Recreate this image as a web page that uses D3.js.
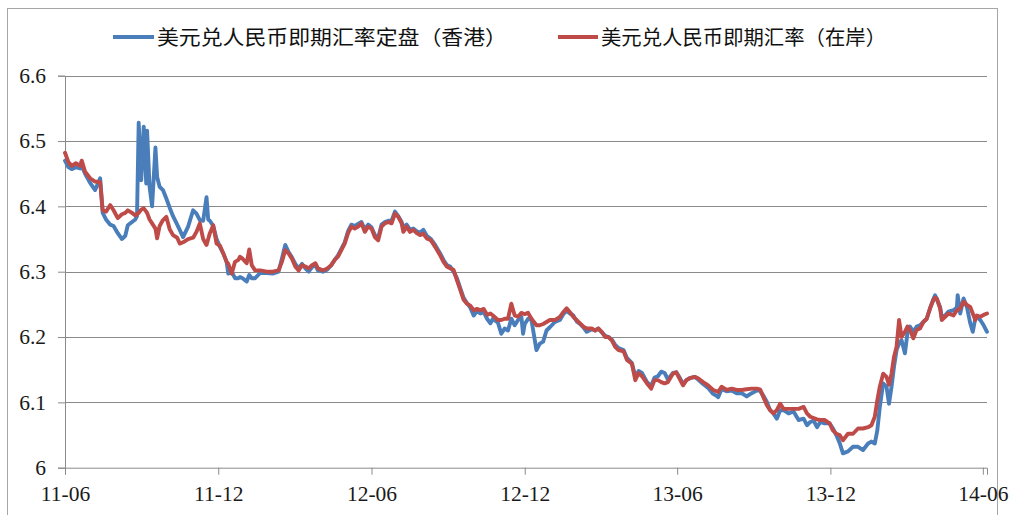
<!DOCTYPE html>
<html>
<head>
<meta charset="utf-8">
<script src="https://cdn.jsdelivr.net/npm/d3@7"></script>
<style>
  html, body { margin: 0; padding: 0; background: #fff; }
  #chart { width: 1009px; height: 515px; overflow: hidden; }
</style>
</head>
<body>
<div id="chart"></div>
<script>
// series names (legend)
var seriesNames = ["美元兑人民币即期汇率定盘（香港）", "美元兑人民币即期汇率（在岸）"];

var dates = [
  "2011-06-01","2011-06-05","2011-06-09","2011-06-14","2011-06-19","2011-06-21","2011-06-25","2011-07-01",
  "2011-07-07","2011-07-13","2011-07-16","2011-07-20","2011-07-25","2011-07-29","2011-08-03","2011-08-08",
  "2011-08-12","2011-08-15","2011-08-20","2011-08-24","2011-08-26","2011-08-28","2011-08-31","2011-09-03",
  "2011-09-06","2011-09-07","2011-09-10","2011-09-13","2011-09-17","2011-09-19","2011-09-22","2011-09-26",
  "2011-09-30","2011-10-04","2011-10-08","2011-10-13","2011-10-16","2011-10-20","2011-10-26","2011-11-01",
  "2011-11-05","2011-11-09","2011-11-13","2011-11-17","2011-11-19","2011-11-21","2011-11-25","2011-11-29",
  "2011-12-03","2011-12-07","2011-12-11","2011-12-13","2011-12-17","2011-12-21","2011-12-25","2011-12-27",
  "2011-12-30","2012-01-04","2012-01-07","2012-01-10","2012-01-14","2012-01-20","2012-01-28","2012-02-04",
  "2012-02-11","2012-02-15","2012-02-19","2012-02-23","2012-02-27","2012-03-02","2012-03-06","2012-03-10",
  "2012-03-14","2012-03-18","2012-03-22","2012-03-26","2012-03-29","2012-04-04","2012-04-09","2012-04-14",
  "2012-04-18","2012-04-22","2012-04-26","2012-04-30","2012-05-04","2012-05-08","2012-05-12","2012-05-16",
  "2012-05-20","2012-05-24","2012-05-28","2012-06-01","2012-06-05","2012-06-09","2012-06-13","2012-06-17",
  "2012-06-21","2012-06-25","2012-06-29","2012-07-03","2012-07-07","2012-07-09","2012-07-13","2012-07-17",
  "2012-07-21","2012-07-25","2012-07-29","2012-08-02","2012-08-06","2012-08-11","2012-08-16","2012-08-22",
  "2012-08-26","2012-08-30","2012-09-03","2012-09-07","2012-09-11","2012-09-15","2012-09-19","2012-09-23",
  "2012-09-27","2012-10-01","2012-10-05","2012-10-09","2012-10-13","2012-10-17","2012-10-21","2012-10-24",
  "2012-10-30","2012-11-03","2012-11-07","2012-11-11","2012-11-15","2012-11-19","2012-11-23","2012-11-27",
  "2012-11-29","2012-12-01","2012-12-05","2012-12-09","2012-12-15","2012-12-19","2012-12-23","2012-12-27",
  "2012-12-31","2013-01-06","2013-01-12","2013-01-16","2013-01-20","2013-01-24","2013-01-28","2013-02-01",
  "2013-02-05","2013-02-09","2013-02-13","2013-02-19","2013-02-23","2013-02-27","2013-03-03","2013-03-07",
  "2013-03-11","2013-03-15","2013-03-19","2013-03-23","2013-03-29","2013-04-02","2013-04-08","2013-04-12",
  "2013-04-16","2013-04-20","2013-04-26","2013-05-01","2013-05-05","2013-05-09","2013-05-13","2013-05-17",
  "2013-05-21","2013-05-27","2013-05-31","2013-06-04","2013-06-08","2013-06-12","2013-06-16","2013-06-22",
  "2013-06-26","2013-07-02","2013-07-08","2013-07-14","2013-07-18","2013-07-20","2013-07-24","2013-07-30",
  "2013-08-05","2013-08-11","2013-08-17","2013-08-23","2013-08-29","2013-09-04","2013-09-08","2013-09-12",
  "2013-09-16","2013-09-20","2013-09-24","2013-09-28","2013-10-02","2013-10-06","2013-10-12","2013-10-18",
  "2013-10-24","2013-10-30","2013-11-03","2013-11-07","2013-11-11","2013-11-15","2013-11-19","2013-11-24",
  "2013-11-30","2013-12-04","2013-12-08","2013-12-12","2013-12-16","2013-12-22","2013-12-28","2014-01-03",
  "2014-01-09","2014-01-15","2014-01-19","2014-01-23","2014-01-26","2014-01-29","2014-02-02","2014-02-06",
  "2014-02-09","2014-02-12","2014-02-15","2014-02-18","2014-02-21","2014-02-24","2014-02-28","2014-03-03",
  "2014-03-06","2014-03-10","2014-03-14","2014-03-18","2014-03-22","2014-03-26","2014-03-30","2014-04-03",
  "2014-04-05","2014-04-07","2014-04-11","2014-04-13","2014-04-17","2014-04-21","2014-04-27","2014-05-01",
  "2014-05-02","2014-05-05","2014-05-09","2014-05-13","2014-05-17","2014-05-20","2014-05-23","2014-05-25",
  "2014-05-29","2014-06-02","2014-06-06"
];

// USD/CNY spot fixing, Hong Kong (blue)
var hkFix = [
  6.470,6.460,6.457,6.460,6.458,6.462,6.450,6.436,
  6.425,6.443,6.390,6.380,6.372,6.370,6.359,6.350,
  6.355,6.371,6.376,6.380,6.385,6.528,6.440,6.522,
  6.435,6.516,6.430,6.400,6.490,6.445,6.430,6.425,
  6.412,6.398,6.385,6.372,6.364,6.353,6.369,6.394,
  6.389,6.379,6.378,6.414,6.380,6.378,6.370,6.350,
  6.338,6.328,6.315,6.297,6.300,6.290,6.290,6.292,
  6.290,6.285,6.295,6.290,6.290,6.298,6.298,6.297,
  6.300,6.320,6.341,6.330,6.322,6.312,6.305,6.312,
  6.305,6.300,6.307,6.310,6.302,6.300,6.303,6.310,
  6.318,6.325,6.335,6.345,6.362,6.372,6.370,6.373,
  6.376,6.365,6.372,6.368,6.356,6.352,6.372,6.376,
  6.378,6.378,6.392,6.385,6.376,6.368,6.372,6.364,
  6.366,6.362,6.360,6.364,6.355,6.350,6.341,6.328,
  6.318,6.310,6.308,6.300,6.290,6.275,6.260,6.252,
  6.245,6.233,6.240,6.236,6.238,6.228,6.221,6.228,
  6.222,6.205,6.213,6.210,6.228,6.218,6.226,6.231,
  6.205,6.220,6.228,6.226,6.180,6.190,6.193,6.210,
  6.215,6.223,6.226,6.235,6.240,6.236,6.233,6.224,
  6.220,6.215,6.208,6.212,6.210,6.213,6.207,6.202,
  6.200,6.196,6.188,6.183,6.180,6.168,6.160,6.140,
  6.148,6.145,6.131,6.125,6.138,6.140,6.147,6.145,
  6.135,6.145,6.146,6.138,6.128,6.134,6.137,6.139,
  6.135,6.128,6.122,6.113,6.110,6.108,6.120,6.117,
  6.118,6.114,6.114,6.109,6.114,6.118,6.118,6.110,
  6.101,6.088,6.083,6.075,6.088,6.088,6.083,6.086,
  6.073,6.075,6.065,6.070,6.072,6.062,6.070,6.068,
  6.068,6.060,6.050,6.038,6.022,6.025,6.032,6.032,
  6.027,6.037,6.040,6.037,6.057,6.093,6.129,6.124,
  6.098,6.124,6.155,6.180,6.190,6.195,6.175,6.206,
  6.216,6.208,6.216,6.218,6.223,6.228,6.244,6.258,
  6.264,6.258,6.246,6.230,6.233,6.239,6.241,6.245,
  6.264,6.236,6.259,6.246,6.221,6.208,6.228,6.231,
  6.226,6.218,6.208
];

// USD/CNY spot, onshore (red)
var onshore = [
  6.482,6.468,6.462,6.466,6.462,6.470,6.453,6.443,
  6.438,6.437,6.394,6.392,6.402,6.394,6.382,6.388,
  6.390,6.394,6.390,6.386,6.388,6.390,6.395,6.397,
  6.392,6.390,6.380,6.374,6.366,6.351,6.370,6.379,
  6.384,6.365,6.356,6.352,6.343,6.345,6.350,6.352,
  6.361,6.374,6.350,6.341,6.350,6.359,6.371,6.343,
  6.340,6.328,6.315,6.312,6.297,6.315,6.318,6.323,
  6.320,6.313,6.334,6.310,6.302,6.302,6.300,6.300,
  6.302,6.315,6.333,6.328,6.320,6.308,6.302,6.310,
  6.308,6.305,6.310,6.313,6.305,6.302,6.305,6.310,
  6.318,6.323,6.333,6.343,6.359,6.369,6.366,6.369,
  6.374,6.361,6.369,6.366,6.353,6.348,6.369,6.374,
  6.376,6.374,6.389,6.384,6.374,6.361,6.369,6.361,
  6.364,6.359,6.356,6.358,6.351,6.348,6.338,6.325,
  6.315,6.308,6.305,6.303,6.287,6.272,6.257,6.251,
  6.248,6.241,6.243,6.241,6.243,6.234,6.236,6.233,
  6.226,6.226,6.228,6.228,6.251,6.233,6.231,6.237,
  6.236,6.235,6.237,6.228,6.218,6.218,6.220,6.223,
  6.226,6.226,6.231,6.238,6.244,6.238,6.231,6.226,
  6.221,6.216,6.213,6.213,6.210,6.213,6.208,6.200,
  6.200,6.195,6.185,6.180,6.178,6.165,6.159,6.134,
  6.145,6.140,6.129,6.121,6.134,6.134,6.131,6.129,
  6.131,6.144,6.146,6.136,6.126,6.134,6.137,6.139,
  6.137,6.131,6.126,6.119,6.117,6.116,6.124,6.119,
  6.121,6.119,6.119,6.120,6.121,6.121,6.120,6.108,
  6.096,6.088,6.083,6.088,6.098,6.090,6.090,6.090,
  6.090,6.093,6.083,6.078,6.076,6.074,6.073,6.073,
  6.068,6.057,6.052,6.050,6.042,6.052,6.052,6.060,
  6.060,6.062,6.065,6.078,6.103,6.124,6.144,6.139,
  6.127,6.144,6.170,6.185,6.226,6.200,6.208,6.216,
  6.211,6.198,6.211,6.213,6.223,6.228,6.244,6.257,
  6.260,6.259,6.244,6.226,6.231,6.236,6.233,6.241,
  6.241,6.244,6.254,6.249,6.246,6.236,6.226,6.233,
  6.231,6.234,6.236
];

// axis ticks
var yTicks = [6, 6.1, 6.2, 6.3, 6.4, 6.5, 6.6];
var yTickLabels = ["6", "6.1", "6.2", "6.3", "6.4", "6.5", "6.6"];
var xTickDates = ["2011-06-01", "2011-12-01", "2012-06-01", "2012-12-01", "2013-06-01", "2013-12-01", "2014-06-01"];
var xTickLabels = ["11-06", "11-12", "12-06", "12-12", "13-06", "13-12", "14-06"];

var colors = ["#4a7ebb", "#be4b48"];
var gridColor = "#8a8a8a";

var W = 1009, H = 515;
var margin = {top: 75.7, right: 22, bottom: 47.3, left: 65};

var parseTime = d3.timeParse("%Y-%m-%d");

var x = d3.scaleTime()
    .domain([parseTime("2011-06-01"), parseTime("2014-06-06")])
    .range([margin.left, W - margin.right]);
var y = d3.scaleLinear()
    .domain([6, 6.6])
    .range([H - margin.bottom, margin.top]);

var svg = d3.select("#chart")
    .append("svg")
    .attr("width", W)
    .attr("height", H);

// outer chart border
svg.append("rect")
    .attr("x", 7.5).attr("y", 8.5)
    .attr("width", 990).attr("height", 530)
    .attr("fill", "#fff")
    .attr("stroke", "#a6a6a6")
    .attr("stroke-width", 1);

// horizontal gridlines
svg.append("g")
    .selectAll("line")
    .data(yTicks.slice(1))
    .enter().append("line")
    .attr("x1", margin.left)
    .attr("x2", W - margin.right)
    .attr("y1", function(d) { return Math.round(y(d)) + 0.5; })
    .attr("y2", function(d) { return Math.round(y(d)) + 0.5; })
    .attr("stroke", gridColor)
    .attr("stroke-width", 1);

// y axis
var yAxis = svg.append("g")
    .attr("transform", "translate(" + margin.left + ",0)")
    .call(d3.axisLeft(y)
        .tickValues(yTicks)
        .tickSize(7)
        .tickPadding(12)
        .tickFormat(function(d, i) { return yTickLabels[i]; }));

// x axis
var xAxis = svg.append("g")
    .attr("transform", "translate(0," + (H - margin.bottom) + ")")
    .call(d3.axisBottom(x)
        .tickValues(xTickDates.map(parseTime))
        .tickSize(7)
        .tickPadding(11)
        .tickFormat(function(d, i) { return xTickLabels[i]; }));

[yAxis, xAxis].forEach(function(g) {
    g.selectAll(".domain, .tick line").attr("stroke", gridColor);
    g.selectAll("text")
        .attr("fill", "#1a1a1a")
        .style("font-family", "'Liberation Serif', 'Times New Roman', serif")
        .style("font-size", "21.5px");
});

// series lines
var line = d3.line()
    .x(function(d) { return x(d.date); })
    .y(function(d) { return y(d.value); });

[hkFix, onshore].forEach(function(values, s) {
    var rows = dates.map(function(d, i) {
        return {date: parseTime(d), value: values[i]};
    });
    svg.append("path")
        .datum(rows)
        .attr("fill", "none")
        .attr("stroke", colors[s])
        .attr("stroke-width", 3.9)
        .attr("stroke-linejoin", "round")
        .attr("stroke-linecap", "round")
        .attr("d", line);
});

// legend
var legendPos = [
    {x1: 113, x2: 154, tx: 157, tl: 350},
    {x1: 558, x2: 598, tx: 601, tl: 285}
];
var legend = svg.append("g");
seriesNames.forEach(function(name, i) {
    var p = legendPos[i];
    legend.append("line")
        .attr("x1", p.x1).attr("x2", p.x2)
        .attr("y1", 37).attr("y2", 37)
        .attr("stroke", colors[i])
        .attr("stroke-width", 4);
    legend.append("text")
        .attr("x", p.tx)
        .attr("y", 45)
        .attr("textLength", p.tl)
        .attr("lengthAdjust", "spacingAndGlyphs")
        .attr("fill", "#111")
        .style("font-family", "'Noto Sans CJK SC', sans-serif")
        .style("font-size", "20px")
        .text(name);
});
</script>
</body>
</html>
